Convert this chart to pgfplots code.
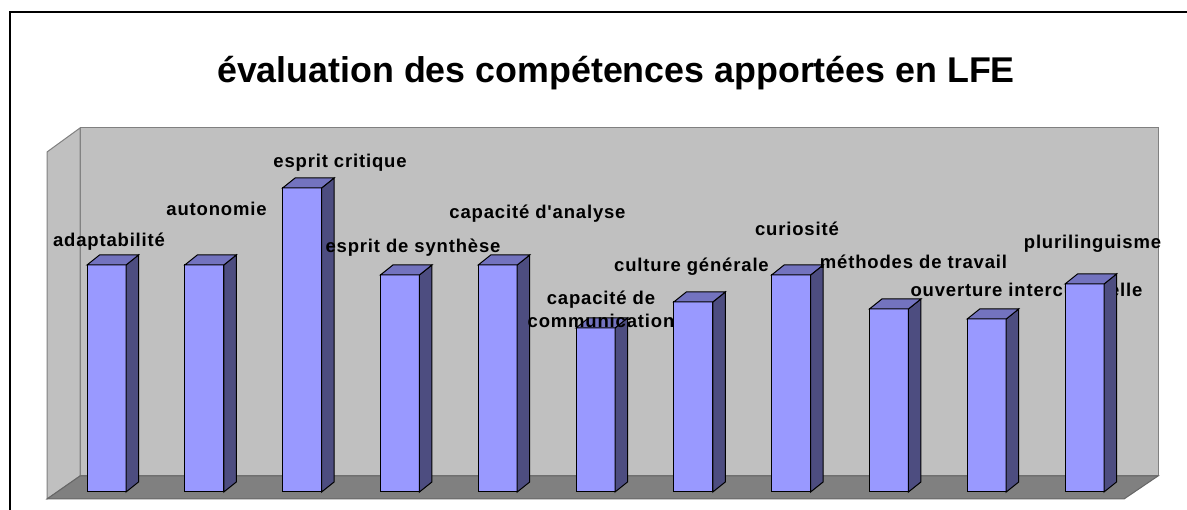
\documentclass[border=0pt]{standalone}
\usepackage{fontspec}
\setmainfont{Liberation Sans}[Ligatures=TeXOff]
\newfontfamily\labfont{Liberation Sans}[Ligatures=TeXOff,LetterSpace=4.5]
\usepackage{pgfplots}
\pgfplotsset{compat=1.18}
\usepackage{pgfplotstable}
\definecolor{front}{HTML}{9999FF}
\definecolor{side}{HTML}{4D4D80}
\definecolor{topc}{HTML}{7373BF}
\definecolor{wall}{HTML}{C0C0C0}
\definecolor{floorc}{HTML}{808080}

% heights of the bars (arbitrary units)
\pgfplotstableread{
idx h
0 227
1 227
2 304
3 217
4 227
5 164
6 190
7 217
8 183
9 173
10 208
}\bars

\pgfdeclareplotmark{bar3d}{%
  \pgfsetfillcolor{side}%
  \pgfpathmoveto{\pgfqpoint{19.5pt}{0pt}}%
  \pgfpathlineto{\pgfqpoint{32pt}{10pt}}%
  \pgfpathlineto{\pgfpoint{32pt}{10-\h}}%
  \pgfpathlineto{\pgfpoint{19.5pt}{-\h}}%
  \pgfpathclose
  \pgfusepath{fill,stroke}%
  \pgfsetfillcolor{topc}%
  \pgfpathmoveto{\pgfqpoint{-19.5pt}{0pt}}%
  \pgfpathlineto{\pgfqpoint{-7pt}{10pt}}%
  \pgfpathlineto{\pgfqpoint{32pt}{10pt}}%
  \pgfpathlineto{\pgfqpoint{19.5pt}{0pt}}%
  \pgfpathclose
  \pgfusepath{fill,stroke}%
}

\begin{document}
\begin{tikzpicture}
\begin{axis}[width=1187pt,height=510pt,scale only axis,set layers=standard,
  xmin=0,xmax=1187,ymin=-18,ymax=492,hide axis,clip=false]
% frame
\fill[white] (axis cs:0,-18) rectangle (axis cs:1187,492);
\draw[line width=2pt] (axis cs:10,-18) -- (axis cs:10,480) -- (axis cs:1187,480);
% walls and floor
\filldraw[fill=wall, draw=floorc, line width=1pt] (axis cs:80,16) rectangle (axis cs:1158,364);
\filldraw[fill=wall, draw=floorc, line width=1pt] (axis cs:47,-7) -- (axis cs:47,340) -- (axis cs:80,364) -- (axis cs:80,16) -- cycle;
\filldraw[fill=floorc, draw=black!60, line width=1pt] (axis cs:47,-7) -- (axis cs:1124,-7) -- (axis cs:1158,16) -- (axis cs:80,16) -- cycle;
% title
\node[font=\bfseries\fontsize{35.8}{40}\selectfont, anchor=base] at (axis cs:616,409) {évaluation des compétences apportées en LFE};
% label hidden by the last bar
\node[font=\labfont\bfseries\fontsize{18.5}{22}\selectfont, anchor=base] at (axis cs:1026.5,195) {ouverture interculturelle};
% bars
\addplot[ybar, bar width=39pt, bar shift=0pt, fill=front, draw=black, line width=1pt]
  table[x expr=106.5+97.8*\coordindex, y=h] {\bars};
\addplot[only marks, mark=bar3d, draw=black, line width=1pt,
  visualization depends on={\thisrow{h} \as \h}]
  table[x expr=106.5+97.8*\coordindex, y=h] {\bars};
% labels
\begin{pgfonlayer}{axis foreground}
\begin{scope}[every node/.style={font=\labfont\bfseries\fontsize{18.5}{22}\selectfont, anchor=base}]
\node at (axis cs:109,245) {adaptabilité};
\node at (axis cs:216.5,276) {autonomie};
\node at (axis cs:340,324) {esprit critique};
\node at (axis cs:413,239) {esprit de synthèse};
\node at (axis cs:537.5,273) {capacité d'analyse};
\node at (axis cs:601,187) {capacité de};
\node at (axis cs:601,164) {communication};
\node at (axis cs:691.5,220) {culture générale};
\node at (axis cs:797,256) {curiosité};
\node at (axis cs:913.5,223) {méthodes de travail};
\node at (axis cs:1092.5,243) {plurilinguisme};
\end{scope}
\end{pgfonlayer}
\end{axis}
\pgfresetboundingbox
\path (current axis.south west) rectangle (current axis.north east);
\end{tikzpicture}
\end{document}
